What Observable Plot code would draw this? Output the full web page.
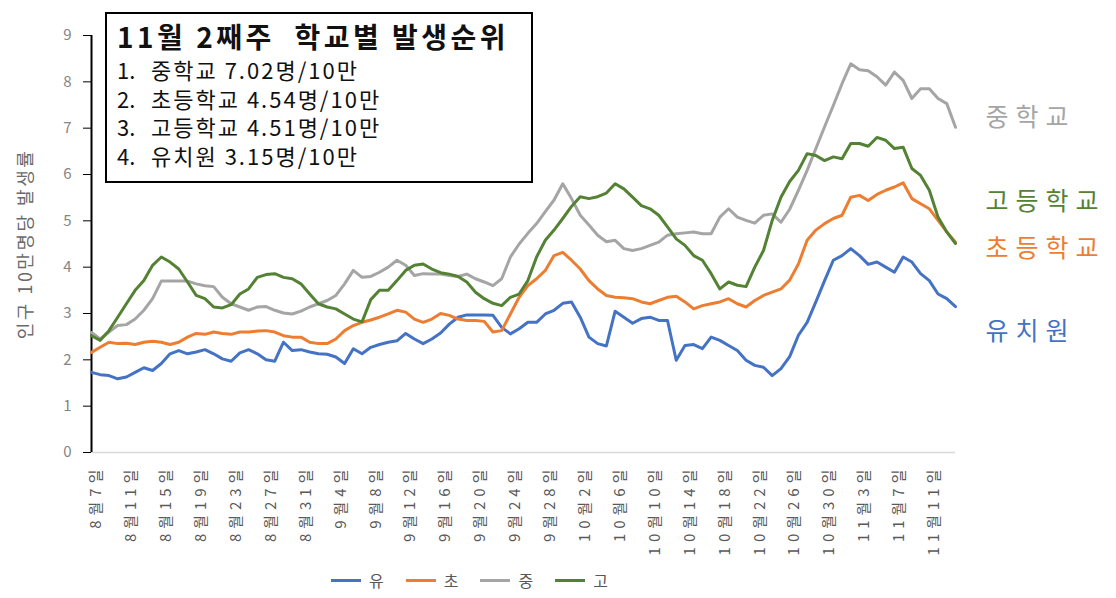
<!DOCTYPE html>
<html>
<head>
<meta charset="utf-8">
<script src="https://cdn.jsdelivr.net/npm/d3@7"></script>
<script src="https://cdn.jsdelivr.net/npm/@observablehq/plot@0.6"></script>
<style>
  html, body { margin: 0; padding: 0; background: #fff; }
  body { font-family: "Malgun Gothic", "Noto Sans CJK KR", "Noto Sans", sans-serif; }
  #wrap { position: relative; width: 1116px; height: 598px; overflow: hidden; }
  #chart svg { display: block; }
  #box { position: absolute; left: 105px; top: 12px; width: 428px; height: 171px;
         border: 2px solid #000; background: #fff; box-sizing: border-box; padding: 3px 0 0 10px; color: #111; }
  #box .title { font-size: 28px; font-weight: bold; line-height: 38px; letter-spacing: 3.5px; white-space: pre; }
  #box .row { font-size: 22px; line-height: 28.5px; letter-spacing: 2px; white-space: pre; }
  #box .row .n { display: inline-block; width: 34px; letter-spacing: 0; }
  #legend { position: absolute; left: 331px; top: 568px; display: flex; align-items: center; gap: 22px;
            font-size: 16px; color: #595959; }
  #legend .item { display: flex; align-items: center; gap: 8px; }
  #legend .sw { width: 30px; height: 3px; }
</style>
</head>
<body>
<div id="wrap">
  <div id="chart"></div>
  <div id="box"></div>
  <div id="legend"></div>
</div>
<script>
// ---- data ----
const seriesNames = ["유", "초", "중", "고"];
const seriesLabels = ["유치원", "초등학교", "중학교", "고등학교"];
const seriesColors = ["#4472C4", "#ED7D31", "#A5A5A5", "#548235"];

const yu = [1.73,1.68,1.66,1.59,1.63,1.73,1.83,1.77,1.92,2.13,
            2.20,2.13,2.17,2.22,2.13,2.02,1.97,2.15,2.22,2.13,
            2.00,1.97,2.38,2.20,2.22,2.17,2.13,2.12,2.06,1.92,
            2.24,2.13,2.27,2.33,2.38,2.41,2.57,2.45,2.35,2.45,
            2.58,2.77,2.92,2.97,2.97,2.97,2.96,2.70,2.56,2.67,
            2.81,2.81,2.99,3.07,3.22,3.25,2.92,2.49,2.35,2.30,
            3.05,2.92,2.79,2.89,2.92,2.85,2.85,1.99,2.31,2.33,
            2.24,2.49,2.42,2.31,2.20,1.99,1.88,1.84,1.66,1.81,
            2.07,2.53,2.81,3.25,3.71,4.15,4.25,4.40,4.25,4.06,
            4.11,4.00,3.89,4.22,4.11,3.86,3.71,3.42,3.32,3.15];
const cho = [2.16,2.27,2.38,2.35,2.36,2.33,2.38,2.40,2.38,2.33,
             2.38,2.49,2.57,2.55,2.60,2.57,2.55,2.60,2.60,2.62,
             2.63,2.60,2.52,2.49,2.49,2.38,2.35,2.35,2.45,2.63,
             2.74,2.81,2.86,2.92,2.99,3.07,3.03,2.88,2.81,2.88,
             3.00,2.96,2.88,2.85,2.85,2.83,2.60,2.63,2.99,3.35,
             3.60,3.75,3.93,4.25,4.32,4.15,3.96,3.71,3.53,3.39,
             3.35,3.34,3.32,3.25,3.21,3.28,3.35,3.37,3.25,3.10,
             3.17,3.21,3.25,3.32,3.21,3.14,3.28,3.39,3.46,3.53,
             3.72,4.07,4.58,4.80,4.94,5.05,5.12,5.51,5.55,5.44,
             5.57,5.66,5.73,5.82,5.48,5.37,5.26,5.01,4.76,4.54];
const jung = [2.59,2.45,2.60,2.74,2.76,2.88,3.07,3.32,3.70,3.70,
              3.70,3.70,3.64,3.60,3.58,3.35,3.21,3.14,3.07,3.14,
              3.15,3.07,3.01,2.99,3.05,3.14,3.21,3.28,3.39,3.64,
              3.93,3.78,3.80,3.89,4.00,4.15,4.04,3.82,3.86,3.85,
              3.85,3.82,3.80,3.85,3.75,3.68,3.60,3.75,4.22,4.50,
              4.73,4.94,5.20,5.45,5.80,5.48,5.12,4.91,4.69,4.55,
              4.58,4.40,4.36,4.40,4.47,4.54,4.69,4.72,4.74,4.76,
              4.72,4.72,5.08,5.26,5.08,5.01,4.95,5.12,5.15,4.97,
              5.25,5.66,6.09,6.56,7.03,7.49,7.96,8.39,8.26,8.24,
              8.11,7.93,8.21,8.03,7.64,7.85,7.85,7.64,7.53,7.02];
const go = [2.52,2.42,2.63,2.92,3.21,3.50,3.71,4.04,4.22,4.11,
            3.96,3.68,3.39,3.32,3.14,3.12,3.19,3.42,3.53,3.78,
            3.84,3.86,3.78,3.75,3.64,3.42,3.21,3.14,3.10,2.99,
            2.88,2.82,3.30,3.50,3.50,3.71,3.93,4.04,4.07,3.96,
            3.88,3.85,3.80,3.68,3.46,3.32,3.22,3.17,3.35,3.42,
            3.71,4.22,4.58,4.80,5.05,5.31,5.52,5.48,5.52,5.60,
            5.80,5.69,5.51,5.33,5.26,5.12,4.87,4.61,4.47,4.25,
            4.15,3.86,3.53,3.68,3.61,3.58,4.00,4.36,5.01,5.51,
            5.85,6.09,6.45,6.41,6.30,6.38,6.34,6.67,6.67,6.61,
            6.80,6.74,6.56,6.59,6.13,5.98,5.66,5.08,4.76,4.51];

const yTicks = [0,1,2,3,4,5,6,7,8,9];
const yLabel = "인구 10만명당 발생률";
const boxTitle = "11월 2째주  학교별 발생순위";
const rankNums = ["1.", "2.", "3.", "4."];
const rankSchools = ["중학교", "초등학교", "고등학교", "유치원"];
const rankValues = ["7.02", "4.54", "4.51", "3.15"];
const rankUnit = "명/10만";
// end label anchor values (y in data units)
const endLabelY = [2.59, 4.40, 7.21, 5.40];

// categories: daily dates starting Aug 7
const start = new Date(Date.UTC(2020, 7, 7));
const dates = yu.map((_, i) => {
  const d = d3.utcDay.offset(start, i);
  return `${d.getUTCMonth() + 1}월${d.getUTCDate()}일`;
});
const xTicks = dates.filter((_, i) => i % 4 === 0);

// ---- build ----
const seriesValues = [yu, cho, jung, go];
const table = seriesValues.flatMap((vals, k) =>
  vals.map((v, i) => ({date: dates[i], value: v, series: seriesNames[k]})));
const endLabels = seriesLabels.map((l, k) => ({label: l, y: endLabelY[k], color: seriesColors[k]}));
const drawOrder = ["유", "초", "중", "고"];

const font = '"Malgun Gothic", "Noto Sans CJK KR", "Noto Sans", sans-serif';
const chart = Plot.plot({
  width: 1116,
  height: 560,
  marginLeft: 91,
  marginRight: 161,
  marginTop: 35,
  marginBottom: 108,
  style: {fontFamily: font, background: "white", overflow: "visible"},
  x: {type: "point", domain: dates, padding: 0},
  y: {domain: [0, 9]},
  color: {domain: seriesNames, range: seriesColors},
  marks: [
    Plot.ruleY([0], {stroke: "#d9d9d9", strokeWidth: 1.5}),
    Plot.axisY({ticks: yTicks, tickSize: 8, tickPadding: 12, stroke: "black", fill: "#858585",
                fontSize: 15, label: yLabel, labelAnchor: "center", labelArrow: "none", labelOffset: 72}),
    Plot.ruleX([dates[0]], {y1: 0, y2: 9, stroke: "black", strokeWidth: 2}),
    Plot.axisX({ticks: xTicks, tickSize: 0, tickRotate: -90, tickPadding: 12, fill: "#595959",
                fontSize: 15, dx: 5, label: null}),
    ...drawOrder.map(s => Plot.line(table.filter(d => d.series === s),
      {x: "date", y: "value", stroke: "series", strokeWidth: 3, strokeLinejoin: "round"})),
    Plot.text(endLabels, {x: () => dates[dates.length - 1], y: "y", text: "label", fill: "color",
                          dx: 30, textAnchor: "start", fontSize: 25})
  ]
});
document.getElementById("chart").appendChild(chart);
// letter spacing on text
d3.select(chart).selectAll("[aria-label='x-axis tick label'] text").attr("letter-spacing", "5px");
d3.select(chart).selectAll("[aria-label='y-axis label'] text").attr("fill", "#6a6a6a")
  .style("font-size", "18px").attr("letter-spacing", "2.5px");
d3.select(chart).selectAll("[aria-label='text'] text").attr("letter-spacing", "7px");

// annotation box
const box = document.getElementById("box");
const t = document.createElement("div");
t.className = "title"; t.textContent = boxTitle; box.appendChild(t);
rankNums.forEach((n, i) => {
  const r = document.createElement("div");
  r.className = "row";
  r.innerHTML = `<span class="n">${n}</span>${rankSchools[i]} ${rankValues[i]}${rankUnit}`;
  box.appendChild(r);
});

// legend
const lg = document.getElementById("legend");
seriesNames.forEach((n, k) => {
  const it = document.createElement("div");
  it.className = "item";
  it.innerHTML = `<span class="sw" style="background:${seriesColors[k]}"></span><span>${n}</span>`;
  lg.appendChild(it);
});
</script>
</body>
</html>
